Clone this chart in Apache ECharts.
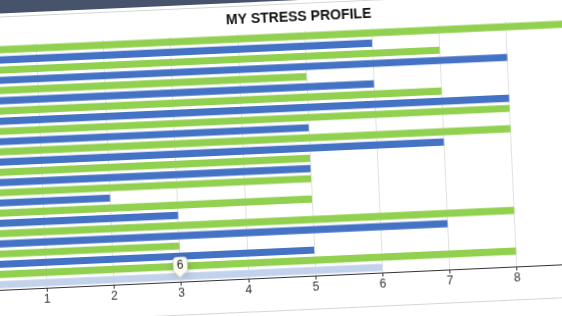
<!doctype html>
<html lang="en">
<head>
    <meta charset="UTF-8">
    <title>My Stress Profile</title>
    <script type="text/javascript" src="https://cdn.jsdelivr.net/npm/echarts@6/dist/echarts.min.js"></script>
    <style>
        html, body { margin: 0; padding: 0; width: 562px; height: 316px; overflow: hidden; background: #fff; }
        .tilt {
            position: absolute; left: -150px; top: 0; width: 910px; height: 316px;
            transform-origin: 431px 158px; transform: rotate(-2.6deg);
        }
        .topbar { position: absolute; left: -300px; top: -300px; width: 1500px; height: 300.5px; background: #46536b; }
        .card { position: absolute; left: -300px; top: 4px; width: 1500px; height: 305px;
                border-top: 1px solid #d6d6d6; border-bottom: 1px solid #d6d6d6; background: #fff; }
        #stress { position: absolute; left: 0; top: 0; width: 910px; height: 316px; }
    </style>
</head>
<body>
<div class="tilt">
    <div class="topbar"></div>
    <div class="card"></div>
    <div id="stress"></div>
</div>
<script>
    // 数据（从上到下）
    var categories = ['Q1', 'Q2', 'Q3', 'Q4', 'Q5', 'Q6', 'Q7', 'Q8', 'Q9', 'Q10', 'Q11', 'Q12'];
    var greenValues = [10, 7, 5, 7, 8, 8, 5, 5, 5, 8, 3, 8];
    var blueValues = [6, 8, 6, 8, 5, 7, 5, 2, 3, 7, 5, 6];
    var xTicks = [0, 1, 2, 3, 4, 5, 6, 7, 8, 9, 10];

    var chart = echarts.init(document.getElementById('stress'));
    chart.setOption({
        animation: false,
        title: {
            text: 'MY STRESS PROFILE',
            left: 'center',
            top: 6,
            textStyle: { fontSize: 14, fontWeight: 'bold', color: '#111', fontFamily: 'Liberation Sans, Arial, sans-serif' }
        },
        tooltip: {
            trigger: 'item',
            position: 'top',
            alwaysShowContent: true,
            transitionDuration: 0,
            formatter: '{c}',
            backgroundColor: '#fffef6',
            borderColor: '#cfcfcf',
            borderWidth: 1,
            padding: [0, 3],
            extraCssText: 'margin-top:11px;line-height:15px;',
            textStyle: { fontSize: 12, color: '#222', fontFamily: 'Liberation Sans, Arial, sans-serif' }
        },
        grid: { left: 124, right: 114, top: 32, bottom: 39 },
        xAxis: {
            type: 'value',
            min: xTicks[0],
            max: xTicks[xTicks.length - 1],
            interval: 1,
            axisLine: { show: true, lineStyle: { color: '#333' } },
            axisTick: { show: true, length: 4, lineStyle: { color: '#333' } },
            axisLabel: { fontSize: 12, color: '#333', margin: 6, fontFamily: 'Liberation Sans, Arial, sans-serif' },
            splitLine: { lineStyle: { color: '#e2e2e2' } }
        },
        yAxis: {
            type: 'category',
            inverse: true,
            data: categories,
            axisLine: { show: false },
            axisTick: { show: false },
            axisLabel: { show: false }
        },
        series: [
            {
                type: 'bar',
                data: greenValues,
                barGap: '43%',
                barCategoryGap: '15%',
                itemStyle: { color: '#92d050' },
                emphasis: { itemStyle: { color: '#c9e8a8' } }
            },
            {
                type: 'bar',
                data: blueValues,
                barGap: '43%',
                barCategoryGap: '15%',
                itemStyle: { color: '#4472c4' },
                emphasis: { itemStyle: { color: '#c3d2ec' } }
            }
        ]
    });
    chart.dispatchAction({ type: 'highlight', seriesIndex: 1, dataIndex: 11 });
    chart.dispatchAction({ type: 'showTip', seriesIndex: 1, dataIndex: 11 });
</script>
</body>
</html>
